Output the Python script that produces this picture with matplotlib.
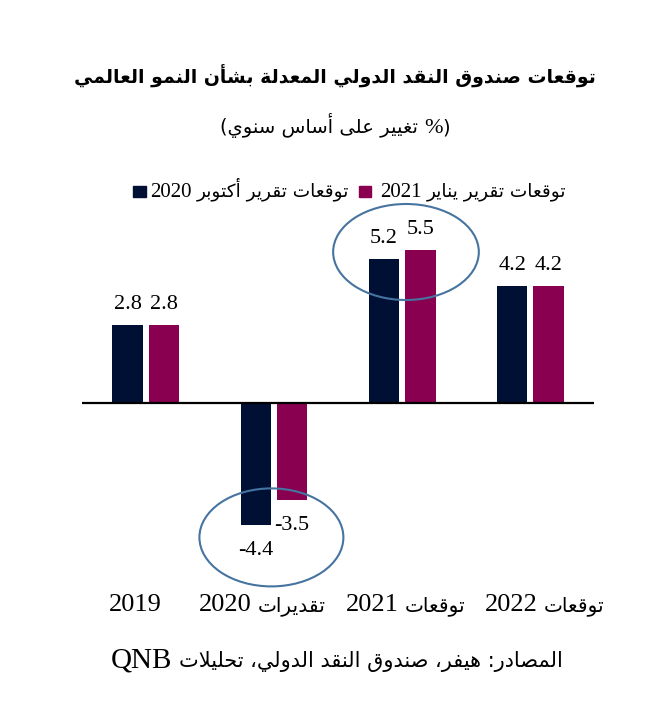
import re
import matplotlib
matplotlib.use("Agg")
import matplotlib.pyplot as plt
from matplotlib.patches import Ellipse, Rectangle

# data
categories = ["2019", "تقديرات 2020", "توقعات 2021", "توقعات 2022"]
oct_2020 = [2.8, -4.4, 5.2, 4.2]
jan_2021 = [2.8, -3.5, 5.5, 4.2]
series_names = ["توقعات تقرير أكتوبر 2020", "توقعات تقرير يناير 2021"]
title = "توقعات صندوق النقد الدولي المعدلة بشأن النمو العالمي"
subtitle = "(% تغيير على أساس سنوي)"
source = "المصادر: هيفر، صندوق النقد الدولي، تحليلات QNB"

DARK = "#001034"
PURPLE = "#88004F"
RING = "#4674A0"

# --- minimal arabic shaping + rtl ordering (matplotlib has no text layout engine)
FORMS = {
    "ا": (0xFE8D, 0xFE8E, None, None),
    "أ": (0xFE83, 0xFE84, None, None),
    "ب": (0xFE8F, 0xFE90, 0xFE91, 0xFE92),
    "ة": (0xFE93, 0xFE94, None, None),
    "ت": (0xFE95, 0xFE96, 0xFE97, 0xFE98),
    "ح": (0xFEA1, 0xFEA2, 0xFEA3, 0xFEA4),
    "د": (0xFEA9, 0xFEAA, None, None),
    "ر": (0xFEAD, 0xFEAE, None, None),
    "س": (0xFEB1, 0xFEB2, 0xFEB3, 0xFEB4),
    "ش": (0xFEB5, 0xFEB6, 0xFEB7, 0xFEB8),
    "ص": (0xFEB9, 0xFEBA, 0xFEBB, 0xFEBC),
    "ع": (0xFEC9, 0xFECA, 0xFECB, 0xFECC),
    "غ": (0xFECD, 0xFECE, 0xFECF, 0xFED0),
    "ف": (0xFED1, 0xFED2, 0xFED3, 0xFED4),
    "ق": (0xFED5, 0xFED6, 0xFED7, 0xFED8),
    "ك": (0xFED9, 0xFEDA, 0xFEDB, 0xFEDC),
    "ل": (0xFEDD, 0xFEDE, 0xFEDF, 0xFEE0),
    "م": (0xFEE1, 0xFEE2, 0xFEE3, 0xFEE4),
    "ن": (0xFEE5, 0xFEE6, 0xFEE7, 0xFEE8),
    "ه": (0xFEE9, 0xFEEA, 0xFEEB, 0xFEEC),
    "و": (0xFEED, 0xFEEE, None, None),
    "ى": (0xFEEF, 0xFEF0, None, None),
    "ي": (0xFEF1, 0xFEF2, 0xFEF3, 0xFEF4),
    "لا": (0xFEFB, 0xFEFC, None, None),
    "لأ": (0xFEF7, 0xFEF8, None, None),
}
LATIN = r"[A-Za-z0-9.%]+"


def shape(s):
    units = []
    i = 0
    while i < len(s):
        if s[i:i + 2] in ("لا", "لأ"):
            units.append(s[i:i + 2])
            i += 2
        else:
            units.append(s[i])
            i += 1
    out = []
    for k, u in enumerate(units):
        if u not in FORMS:
            out.append(u)
            continue
        prev = units[k - 1] if k > 0 else None
        nxt = units[k + 1] if k + 1 < len(units) else None
        jp = prev in FORMS and FORMS[prev][2] is not None
        jn = FORMS[u][2] is not None and nxt in FORMS
        f = FORMS[u]
        if jp and jn:
            out.append(chr(f[3]))
        elif jp:
            out.append(chr(f[1]))
        elif jn:
            out.append(chr(f[2]))
        else:
            out.append(chr(f[0]))
    return "".join(out)


def visual(s):
    s = shape(s)
    runs = re.split("(" + LATIN + ")", s)
    mirror = {"(": ")", ")": "("}
    vis = []
    for r in reversed(runs):
        if re.fullmatch(LATIN, r):
            vis.append(r)
        else:
            vis.append("".join(mirror.get(c, c) for c in reversed(r)))
    return "".join(vis)


W, H = 664, 723
fig = plt.figure(figsize=(W / 100, H / 100), dpi=100)
renderer = fig.canvas.get_renderer()


def mixed(s, x_px, y_px, ar_size, lat_size, ha="center", weight="normal"):
    # latin/digit runs in a serif face and larger, arabic runs in DejaVu Sans
    vis = visual(s)
    pieces = []
    for m in re.finditer(LATIN + "|[^A-Za-z0-9.%]+", vis):
        tok = m.group(0)
        lat = re.fullmatch(LATIN, tok) is not None
        if tok.strip() == "":
            pieces.append(("gap", None))
            continue
        if tok[0] == " ":
            pieces.append(("gap", None))
        pieces.append((tok.strip(), lat))
        if tok[-1] == " ":
            pieces.append(("gap", None))
    gap = 0.3 * ar_size * 100 / 72
    items = []
    for txt, lat in pieces:
        if txt == "gap":
            items.append((None, gap))
            continue
        t = fig.text(0, 1 - y_px / H, txt, ha="left", va="baseline",
                     fontsize=lat_size if lat else ar_size,
                     family="Liberation Serif" if lat else "DejaVu Sans",
                     fontweight=weight)
        items.append((t, t.get_window_extent(renderer).width))
    total = sum(w for _, w in items)
    start = {"center": x_px - total / 2, "right": x_px - total, "left": x_px}[ha]
    for t, w in items:
        if t is not None:
            t.set_x(start / W)
        start += w


# axes placed so zero line and bars land where the reference has them
ymin, ymax = -6, 7
px_per_unit = 27.75
zero_px = 402.9
top_px = zero_px - ymax * px_per_unit
bot_px = zero_px - ymin * px_per_unit
ax = fig.add_axes([81.7 / W, 1 - bot_px / H, 512.7 / W, (bot_px - top_px) / H])
ax.set_xlim(-0.5, 3.5)
ax.set_ylim(ymin, ymax)
ax.axis("off")

x = range(len(categories))
bw = 0.238
off = 0.142
b1 = ax.bar([i - off for i in x], oct_2020, bw, color=DARK)
b2 = ax.bar([i + off for i in x], jan_2021, bw, color=PURPLE)
ax.axhline(0, color="black", lw=1.6)

for bars, vals in ((b1, oct_2020), (b2, jan_2021)):
    for b, v in zip(bars, vals):
        cx = b.get_x() + b.get_width() / 2
        dy = 11.5 if v >= 0 else -21.6
        ax.annotate(f"{v:.1f}", (cx, v), xytext=(0, dy), textcoords="offset points",
                    ha="center", va="baseline", fontsize=16, color="black",
                    family="Liberation Serif")

# highlight rings
ax.add_patch(Ellipse((2.03, (zero_px - 252) / px_per_unit), 145.7 / 128.2, 96 / px_per_unit,
                     fill=False, ec=RING, lw=1.5, clip_on=False))
ax.add_patch(Ellipse((0.98, (zero_px - 537.4) / px_per_unit), 144 / 128.2, 98 / px_per_unit,
                     fill=False, ec=RING, lw=1.5, clip_on=False))

# category labels (not centred on the groups in the reference)
label_px = [135, 262, 406, 545]
for c, lx in zip(categories, label_px):
    mixed(c, lx, 611, 14.5, 19)

mixed(title, 335, 83, 13.6, 13.6, weight="bold")
mixed(subtitle, 335, 133, 14, 16)
mixed(source, 337, 667, 15, 21)

# legend drawn by hand: square then text, left to right
legend_sq = [133, 359]
legend_txt = [150, 380]
for name, col, sx, tx in zip(series_names, [DARK, PURPLE], legend_sq, legend_txt):
    fig.patches.append(Rectangle((sx / W, 1 - 196.7 / H), 12.5 / W, 10.7 / H,
                                 transform=fig.transFigure, color=col))
    mixed(name, tx, 196.7, 13.3, 15, ha="left")

fig.savefig("out.png", dpi=100)
